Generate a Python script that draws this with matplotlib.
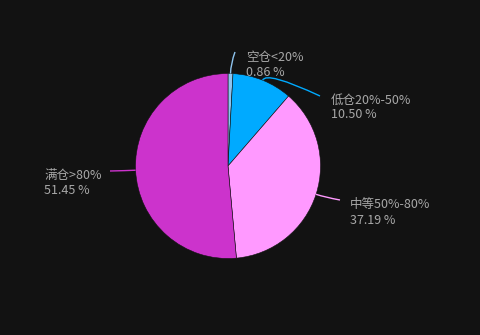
import numpy as np
import matplotlib
matplotlib.use("Agg")
import matplotlib.pyplot as plt
from matplotlib.path import Path
from matplotlib.patches import PathPatch

plt.rcParams['font.family'] = ['Noto Sans CJK SC', 'DejaVu Sans']

categories = ["空仓<20%", "低仓20%-50%", "中等50%-80%", "满仓>80%"]
values = [0.86, 10.50, 37.19, 51.45]
colors = ["#8ec3ee", "#00aaff", "#ff99ff", "#cc33cc"]

# label layout (pixel coords, y downward) : text anchor, line end
label_pos = [(246, 58, 'left'), (331, 100, 'left'), (350, 205, 'left'), (44, 176, 'left')]
line_end = [(235, 52), (320, 96), (340, 200), (110, 171)]

W, H = 481, 335
fig = plt.figure(figsize=(W / 100, H / 100), dpi=100, facecolor="#121212")
ax = fig.add_axes([0, 0, 1, 1])
ax.set_facecolor("#121212")
ax.set_xlim(0, W)
ax.set_ylim(0, H)
ax.axis('off')

cx, cy, r = 228, H - 166, 92.5
wedges, _ = ax.pie(values, colors=colors, startangle=90, counterclock=False,
                   center=(cx, cy), radius=r, frame=True,
                   wedgeprops=dict(edgecolor="#121212", linewidth=0.4))
ax.set_xlim(0, W)
ax.set_ylim(0, H)
ax.set_aspect('equal')
ax.axis('off')

for w, cat, v, col, (tx, ty, ha), (ex, ey) in zip(wedges, categories, values, colors, label_pos, line_end):
    mid = np.deg2rad((w.theta1 + w.theta2) / 2)
    sx, sy = cx + r * np.cos(mid), cy + r * np.sin(mid)
    ctrl = (cx + (r + 10) * np.cos(mid), cy + (r + 10) * np.sin(mid))
    ey2 = H - ey
    path = Path([(sx, sy), ctrl, (ex, ey2)], [Path.MOVETO, Path.CURVE3, Path.CURVE3])
    ax.add_patch(PathPatch(path, fill=False, edgecolor=col, linewidth=1))
    ax.text(tx, H - ty, cat, color="#a8a8a8", fontsize=9, ha=ha, va='center')
    ax.text(tx, H - ty - 15, f"{v:.2f} %", color="#a8a8a8", fontsize=9, ha=ha, va='center')

fig.savefig("out.png", dpi=100, facecolor=fig.get_facecolor())
